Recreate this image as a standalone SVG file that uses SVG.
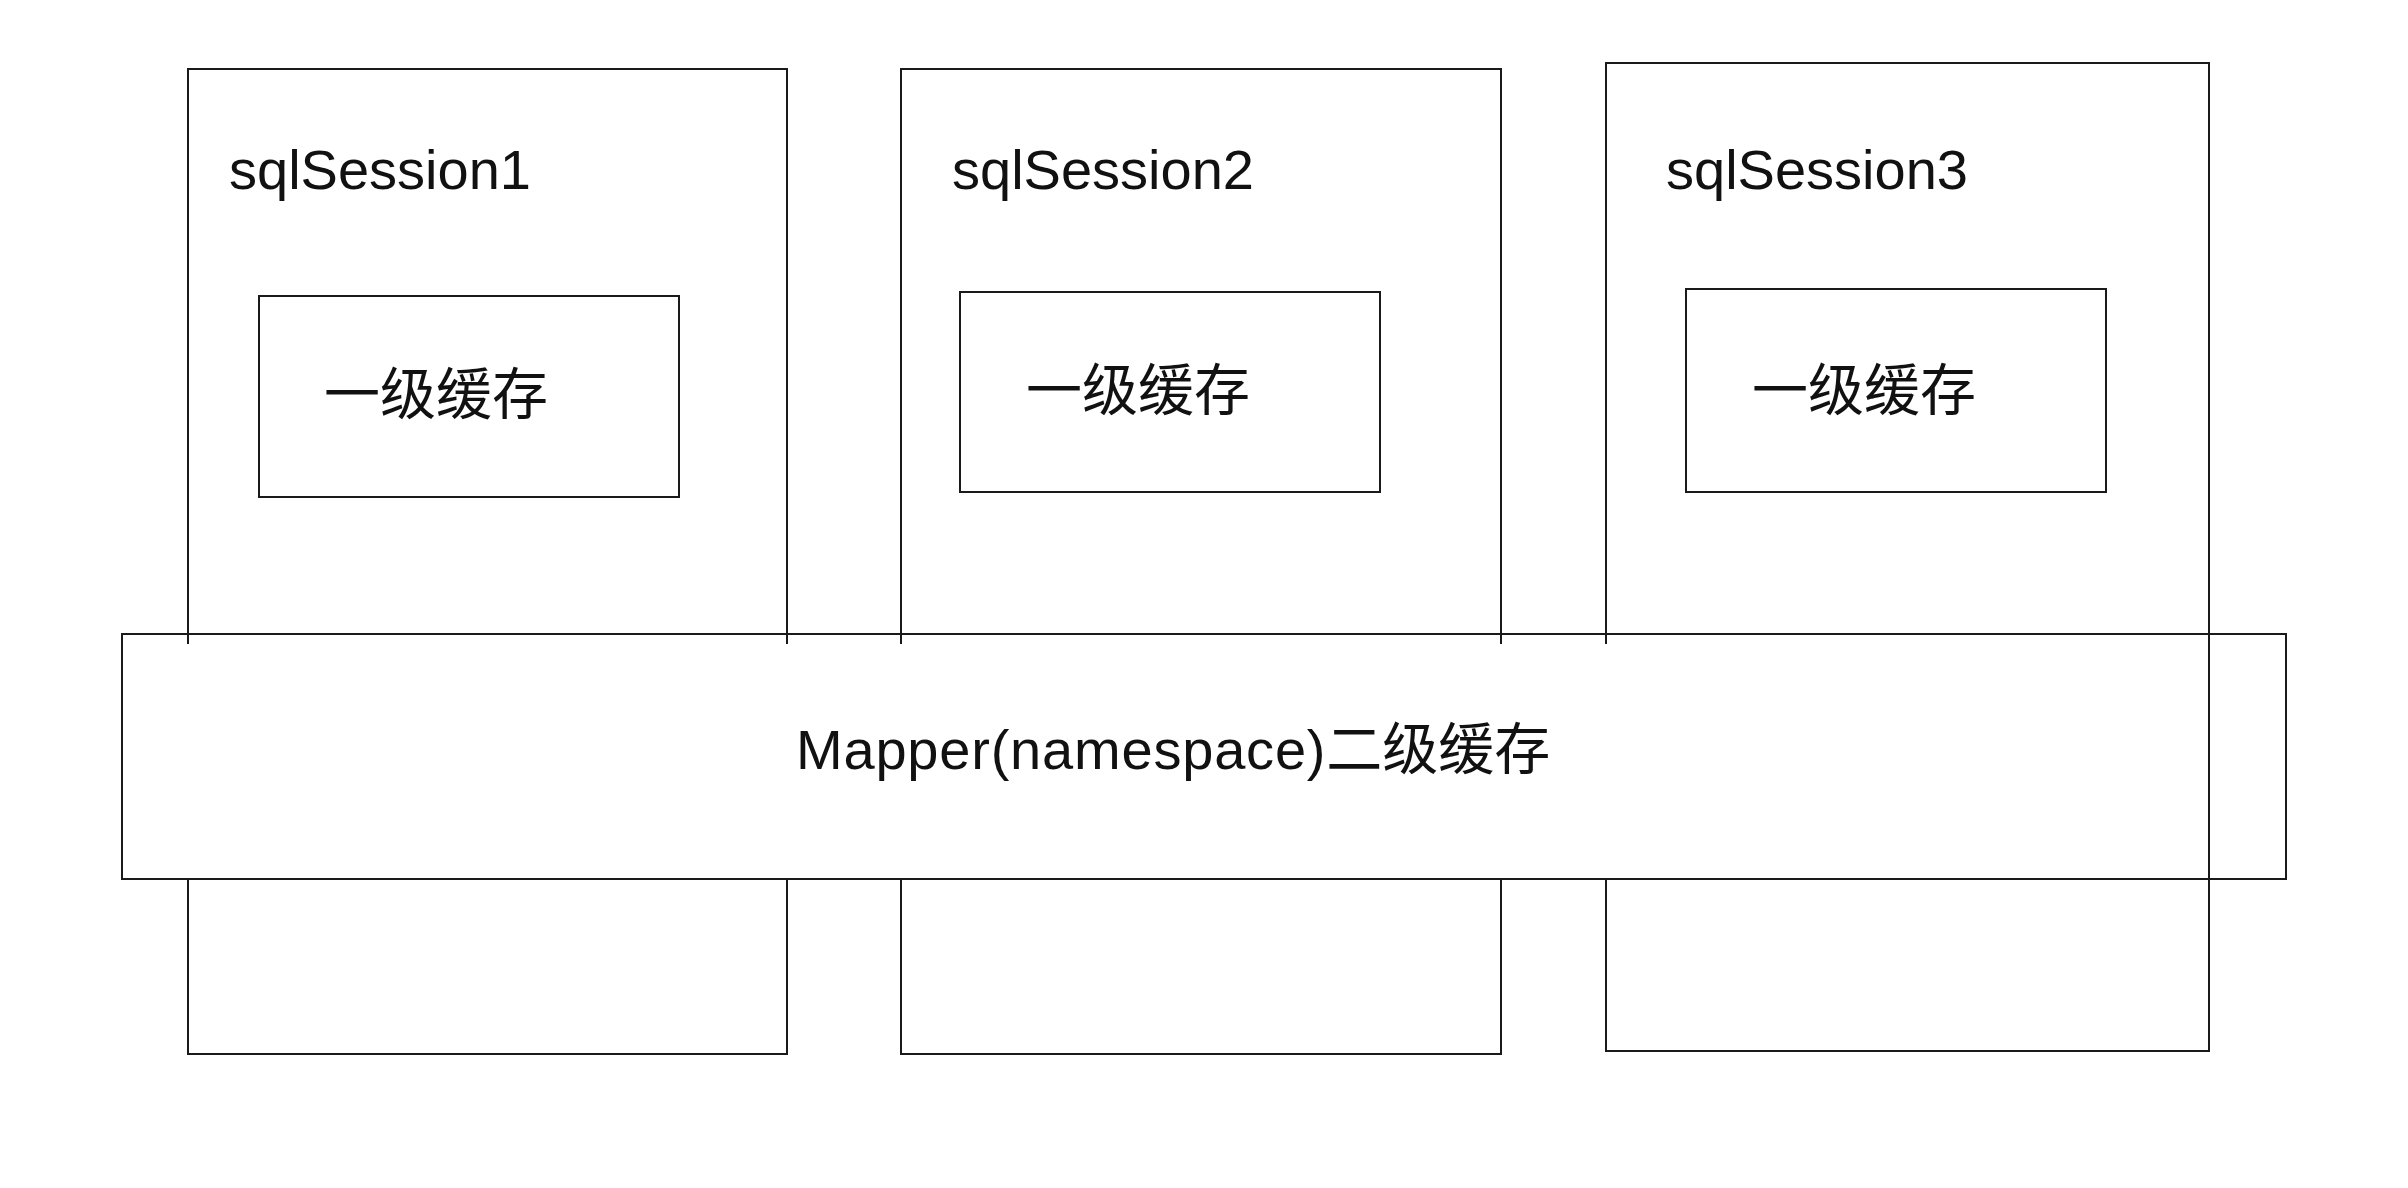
<svg xmlns="http://www.w3.org/2000/svg" width="2408" height="1188" viewBox="0 0 2408 1188">
<style>
.box{fill:none;stroke:#1a1a1a;stroke-width:2}
.wbox{fill:#ffffff;stroke:#1a1a1a;stroke-width:2}
.ln{stroke:#1a1a1a;stroke-width:2}
text{font-family:"Liberation Sans","Noto Sans CJK SC",sans-serif;font-size:56px;fill:#111}
.cjk{font-family:"Noto Sans CJK SC",sans-serif;font-size:56px}
.lat{letter-spacing:0.8px}
.cjk2{font-family:"Noto Sans CJK SC",sans-serif;font-size:56px;letter-spacing:0}
</style>
<rect width="2408" height="1188" fill="#ffffff"/>
<g id="session1">
<rect class="box" x="188" y="69" width="599" height="985"/>
<text x="229" y="189">sqlSession1</text>
</g>
<g id="session2">
<rect class="box" x="901" y="69" width="600" height="985"/>
<text x="952" y="189">sqlSession2</text>
</g>
<g id="session3">
<rect class="box" x="1606" y="63" width="603" height="988"/>
<text x="1666" y="189">sqlSession3</text>
</g>
<g id="cache1">
<rect class="box" x="259" y="296" width="420" height="201"/>
<text class="cjk" x="324" y="414">一级缓存</text>
</g>
<g id="cache2">
<rect class="box" x="960" y="292" width="420" height="200"/>
<text class="cjk" x="1026" y="410">一级缓存</text>
</g>
<g id="cache3">
<rect class="box" x="1686" y="289" width="420" height="203"/>
<text class="cjk" x="1752" y="410">一级缓存</text>
</g>
<g id="mapper">
<rect class="wbox" x="122" y="634" width="2164" height="245"/>
<text x="796" y="769"><tspan class="lat">Mapper(namespace)</tspan><tspan class="cjk2">二级缓存</tspan></text>
</g>
<g id="connectors">
<line class="ln" x1="188" y1="634" x2="188" y2="644"/>
<line class="ln" x1="787" y1="634" x2="787" y2="644"/>
<line class="ln" x1="901" y1="634" x2="901" y2="644"/>
<line class="ln" x1="1501" y1="634" x2="1501" y2="644"/>
<line class="ln" x1="1606" y1="634" x2="1606" y2="644"/>
<line class="ln" x1="2209" y1="634" x2="2209" y2="879"/>
</g>
</svg>
